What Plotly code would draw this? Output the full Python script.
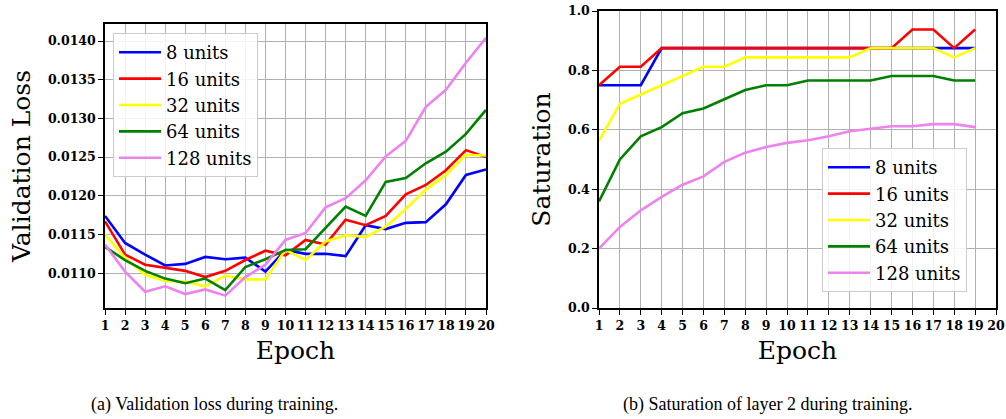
import plotly.graph_objects as go

# Data
epochs_loss = list(range(1, 21))
epochs_sat = list(range(1, 20))
labels = ['8 units', '16 units', '32 units', '64 units', '128 units']
colors = ['#0000ff', '#ff0000', '#ffff00', '#008000', '#ee82ee']

loss_8 = [0.01174, 0.01139, 0.01124, 0.01110, 0.01112, 0.01121, 0.01118, 0.01120, 0.01102, 0.01130,
          0.01125, 0.01125, 0.01122, 0.01162, 0.01157, 0.01165, 0.01166, 0.01189, 0.01227, 0.01234]
loss_16 = [0.01167, 0.01124, 0.01111, 0.01107, 0.01103, 0.01095, 0.01103, 0.01117, 0.01129, 0.01123,
           0.01143, 0.01137, 0.01169, 0.01162, 0.01174, 0.01202, 0.01214, 0.01233, 0.01259, 0.01250]
loss_32 = [0.01150, 0.01120, 0.01098, 0.01090, 0.01089, 0.01083, 0.01097, 0.01092, 0.01092, 0.01130,
           0.01117, 0.01141, 0.01149, 0.01147, 0.01160, 0.01183, 0.01208, 0.01227, 0.01253, 0.01252]
loss_64 = [0.01134, 0.01117, 0.01103, 0.01093, 0.01087, 0.01093, 0.01078, 0.01108, 0.01118, 0.01130,
           0.01131, 0.01159, 0.01186, 0.01174, 0.01218, 0.01223, 0.01242, 0.01257, 0.01280, 0.01311]
loss_128 = [0.01137, 0.01102, 0.01076, 0.01083, 0.01073, 0.01079, 0.01071, 0.01095, 0.01111, 0.01143,
            0.01152, 0.01185, 0.01197, 0.01220, 0.01251, 0.01271, 0.01315, 0.01337, 0.01372, 0.01404]

sat_8 = [0.75, 0.75, 0.75, 0.875, 0.875, 0.875, 0.875, 0.875, 0.875, 0.875,
         0.875, 0.875, 0.875, 0.875, 0.875, 0.875, 0.875, 0.875, 0.875]
sat_16 = [0.75, 0.8125, 0.8125, 0.875, 0.875, 0.875, 0.875, 0.875, 0.875, 0.875,
          0.875, 0.875, 0.875, 0.875, 0.875, 0.9375, 0.9375, 0.875, 0.9375]
sat_32 = [0.5625, 0.6875, 0.71875, 0.75, 0.78125, 0.8125, 0.8125, 0.84375, 0.84375, 0.84375,
          0.84375, 0.84375, 0.84375, 0.875, 0.875, 0.875, 0.875, 0.84375, 0.875]
sat_64 = [0.359, 0.5, 0.578, 0.609, 0.656, 0.672, 0.703, 0.734, 0.75, 0.75,
          0.766, 0.766, 0.766, 0.766, 0.781, 0.781, 0.781, 0.766, 0.766]
sat_128 = [0.2, 0.273, 0.329, 0.374, 0.415, 0.443, 0.492, 0.523, 0.542, 0.556,
           0.565, 0.578, 0.595, 0.604, 0.612, 0.612, 0.619, 0.619, 0.609]

loss_ticks = [0.0110, 0.0115, 0.0120, 0.0125, 0.0130, 0.0135, 0.0140]
sat_ticks = [0.0, 0.2, 0.4, 0.6, 0.8, 1.0]

W, H = 1006, 419


def px(x):
    return x / W


def py(y):
    return 1 - y / H


serif = 'DejaVu Serif'
tick_font = dict(family=serif, size=12.5, color='black', weight='bold')

fig = go.Figure()

for lab, col, ys in zip(labels, colors, [loss_8, loss_16, loss_32, loss_64, loss_128]):
    fig.add_trace(go.Scatter(x=epochs_loss, y=ys, mode='lines', name=lab,
                             line=dict(color=col, width=2.6),
                             xaxis='x', yaxis='y', legend='legend'))

for lab, col, ys in zip(labels, colors, [sat_8, sat_16, sat_32, sat_64, sat_128]):
    fig.add_trace(go.Scatter(x=epochs_sat, y=ys, mode='lines', name=lab,
                             line=dict(color=col, width=2.6),
                             xaxis='x2', yaxis='y2', legend='legend2'))

axis_common = dict(showline=True, mirror=True, linecolor='black', linewidth=1.5,
                   showgrid=True, gridcolor='#b0b0b0', gridwidth=1.2,
                   ticks='outside', ticklen=5, tickwidth=1.3, tickcolor='black',
                   tickfont=tick_font, zeroline=False, automargin=False,
                   tickangle=0, ticklabeloverflow='allow')
title_font = dict(family=serif, size=25, color='black')
legend_common = dict(xanchor='left', yanchor='top', itemwidth=42,
                     bgcolor='rgba(255,255,255,0.85)', bordercolor='#cccccc', borderwidth=1,
                     font=dict(family=serif, size=18, color='black'))

fig.update_layout(
    width=W, height=H,
    margin=dict(l=0, r=0, t=0, b=0),
    paper_bgcolor='white', plot_bgcolor='white',
    xaxis=dict(domain=[px(105), px(486)], range=[1, 20], tickmode='array',
               tickvals=epochs_loss, anchor='y',
               title=dict(text='Epoch', font=title_font, standoff=10),
               **axis_common),
    yaxis=dict(domain=[py(308), py(24)], range=[0.01055, 0.01422], tickmode='array',
               tickvals=loss_ticks, tickformat='.4f', anchor='x',
               title=dict(text='Validation Loss', font=title_font, standoff=10),
               **axis_common),
    xaxis2=dict(domain=[px(599), px(996)], range=[1, 20], tickmode='array',
                tickvals=epochs_loss, anchor='y2',
                title=dict(text='Epoch', font=title_font, standoff=10),
                **axis_common),
    yaxis2=dict(domain=[py(308), py(11)], range=[0, 1], tickmode='array',
                tickvals=sat_ticks, tickformat='.1f', anchor='x2',
                title=dict(text='Saturation', font=title_font, standoff=10),
                **axis_common),
    legend=dict(x=px(113), y=py(33), **legend_common),
    legend2=dict(x=px(822), y=py(148), **legend_common),
    annotations=[
        dict(text='(a) Validation loss during training.', x=px(214), y=py(404),
             xref='paper', yref='paper', showarrow=False, xanchor='center', yanchor='middle',
             font=dict(family='Liberation Serif', size=18, color='black')),
        dict(text='(b) Saturation of layer 2 during training.', x=px(767), y=py(404),
             xref='paper', yref='paper', showarrow=False, xanchor='center', yanchor='middle',
             font=dict(family='Liberation Serif', size=18, color='black')),
    ],
)

# drop the default body margin so the figure sits at the page's top-left corner
fig.write_html('out.html', config={'displayModeBar': False},
               post_script="document.body.style.margin='0';")
